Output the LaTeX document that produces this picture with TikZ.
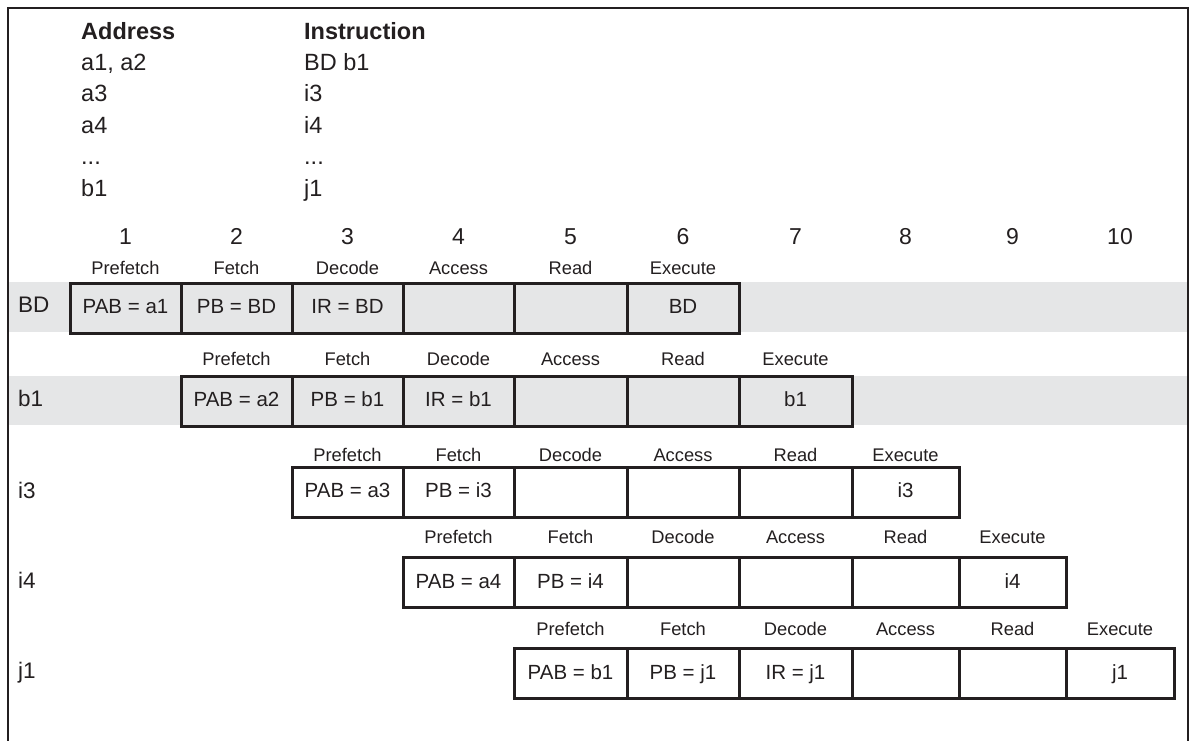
\documentclass[tikz,border=0pt]{standalone}
\usepackage{fontspec}
\setmainfont{Liberation Sans}
\begin{document}
\begin{tikzpicture}[x=1pt,y=-1pt,
  ink/.style={color=inkc},
  hdr/.style={anchor=base west, inner sep=0pt, text=inkc, font=\fontsize{23.5}{28}\selectfont},
  colnum/.style={anchor=base, inner sep=0pt, text=inkc, font=\fontsize{23}{28}\selectfont},
  stage/.style={anchor=base, inner sep=0pt, text=inkc, font=\fontsize{18.3}{22}\selectfont},
  rowlab/.style={anchor=base west, inner sep=0pt, text=inkc, font=\fontsize{22.5}{27}\selectfont},
  cell/.style={draw=inkc, line width=3pt, minimum height=50pt, inner sep=0pt, outer sep=0pt,
     text height=11pt, text depth=0pt, text=inkc, font=\fontsize{20.5}{24}\selectfont},
  band/.style={fill=bandc, draw=none}
]
\definecolor{inkc}{RGB}{35,31,32}
\definecolor{bandc}{RGB}{229,230,231}
\useasboundingbox (0,0) rectangle (1192,740);
\fill[white] (0,0) rectangle (1192,740);
% gray bands
\path[band] (8,282) rectangle (1188,332);
\path[band] (8,376) rectangle (1188,425);
% frame
\draw[inkc, line width=2pt] (8,741) -- (8,8) -- (1188,8) -- (1188,741);
% header
\node[hdr, font=\fontsize{23.5}{28}\selectfont\bfseries] (haddr) at (81,39) {Address};
\node[hdr, font=\fontsize{23.5}{28}\selectfont\bfseries] (hinstr) at (304,39) {Instruction};
\node[hdr] (a1) at (81,70) {a1, a2};
\node[hdr] (a2) at (81,101.5) {a3};
\node[hdr] (a3) at (81,133) {a4};
\node[hdr] (a4) at (81,164.5) {...};
\node[hdr] (a5) at (81,196) {b1};
\node[hdr] (i1) at (304,70) {BD b1};
\node[hdr] (i2) at (304,101.5) {i3};
\node[hdr] (i3) at (304,133) {i4};
\node[hdr] (i4) at (304,164.5) {...};
\node[hdr] (i5) at (304,196) {j1};
% column numbers
\node[colnum] (n1) at (125.5,244) {1};
\node[colnum] (n2) at (236.5,244) {2};
\node[colnum] (n3) at (347.5,244) {3};
\node[colnum] (n4) at (458.5,244) {4};
\node[colnum] (n5) at (570.5,244) {5};
\node[colnum] (n6) at (683,244) {6};
\node[colnum] (n7) at (795.5,244) {7};
\node[colnum] (n8) at (905.5,244) {8};
\node[colnum] (n9) at (1012.5,244) {9};
\node[colnum] (n10) at (1120,244) {10};
% row 1: BD
\node[rowlab] (l1) at (18,312) {BD};
\node[stage] (s1a) at (125.5,274) {Prefetch};
\node[stage] (s1b) at (236.5,274) {Fetch};
\node[stage] (s1c) at (347.5,274) {Decode};
\node[stage] (s1d) at (458.5,274) {Access};
\node[stage] (s1e) at (570.5,274) {Read};
\node[stage] (s1f) at (683,274) {Execute};
\node[cell, minimum width=111pt] (c1a) at (125.5,308) {PAB = a1};
\node[cell, minimum width=111pt] (c1b) at (236.5,308) {PB = BD};
\node[cell, minimum width=111pt] (c1c) at (347.5,308) {IR = BD};
\node[cell, minimum width=111pt] (c1d) at (458.5,308) {};
\node[cell, minimum width=113pt] (c1e) at (570.5,308) {};
\node[cell, minimum width=112pt] (c1f) at (683,308) {BD};
% row 2: b1
\node[rowlab] (l2) at (18,406) {b1};
\node[stage] (s2a) at (236.5,365) {Prefetch};
\node[stage] (s2b) at (347.5,365) {Fetch};
\node[stage] (s2c) at (458.5,365) {Decode};
\node[stage] (s2d) at (570.5,365) {Access};
\node[stage] (s2e) at (683,365) {Read};
\node[stage] (s2f) at (795.5,365) {Execute};
\node[cell, minimum width=111pt] (c2a) at (236.5,401) {PAB = a2};
\node[cell, minimum width=111pt] (c2b) at (347.5,401) {PB = b1};
\node[cell, minimum width=111pt] (c2c) at (458.5,401) {IR = b1};
\node[cell, minimum width=113pt] (c2d) at (570.5,401) {};
\node[cell, minimum width=112pt] (c2e) at (683,401) {};
\node[cell, minimum width=113pt] (c2f) at (795.5,401) {b1};
% row 3: i3
\node[rowlab] (l3) at (18,498) {i3};
\node[stage] (s3a) at (347.5,461) {Prefetch};
\node[stage] (s3b) at (458.5,461) {Fetch};
\node[stage] (s3c) at (570.5,461) {Decode};
\node[stage] (s3d) at (683,461) {Access};
\node[stage] (s3e) at (795.5,461) {Read};
\node[stage] (s3f) at (905.5,461) {Execute};
\node[cell, minimum width=111pt] (c3a) at (347.5,492) {PAB = a3};
\node[cell, minimum width=111pt] (c3b) at (458.5,492) {PB = i3};
\node[cell, minimum width=113pt] (c3c) at (570.5,492) {};
\node[cell, minimum width=112pt] (c3d) at (683,492) {};
\node[cell, minimum width=113pt] (c3e) at (795.5,492) {};
\node[cell, minimum width=107pt] (c3f) at (905.5,492) {i3};
% row 4: i4
\node[rowlab] (l4) at (18,588) {i4};
\node[stage] (s4a) at (458.5,543) {Prefetch};
\node[stage] (s4b) at (570.5,543) {Fetch};
\node[stage] (s4c) at (683,543) {Decode};
\node[stage] (s4d) at (795.5,543) {Access};
\node[stage] (s4e) at (905.5,543) {Read};
\node[stage] (s4f) at (1012.5,543) {Execute};
\node[cell, minimum width=111pt] (c4a) at (458.5,582.5) {PAB = a4};
\node[cell, minimum width=113pt] (c4b) at (570.5,582.5) {PB = i4};
\node[cell, minimum width=112pt] (c4c) at (683,582.5) {};
\node[cell, minimum width=113pt] (c4d) at (795.5,582.5) {};
\node[cell, minimum width=107pt] (c4e) at (905.5,582.5) {};
\node[cell, minimum width=107pt] (c4f) at (1012.5,582.5) {i4};
% row 5: j1
\node[rowlab] (l5) at (18,678) {j1};
\node[stage] (s5a) at (570.5,635) {Prefetch};
\node[stage] (s5b) at (683,635) {Fetch};
\node[stage] (s5c) at (795.5,635) {Decode};
\node[stage] (s5d) at (905.5,635) {Access};
\node[stage] (s5e) at (1012.5,635) {Read};
\node[stage] (s5f) at (1120,635) {Execute};
\node[cell, minimum width=113pt] (c5a) at (570.5,673.5) {PAB = b1};
\node[cell, minimum width=112pt] (c5b) at (683,673.5) {PB = j1};
\node[cell, minimum width=113pt] (c5c) at (795.5,673.5) {IR = j1};
\node[cell, minimum width=107pt] (c5d) at (905.5,673.5) {};
\node[cell, minimum width=107pt] (c5e) at (1012.5,673.5) {};
\node[cell, minimum width=108pt] (c5f) at (1120,673.5) {j1};
\end{tikzpicture}
\end{document}
